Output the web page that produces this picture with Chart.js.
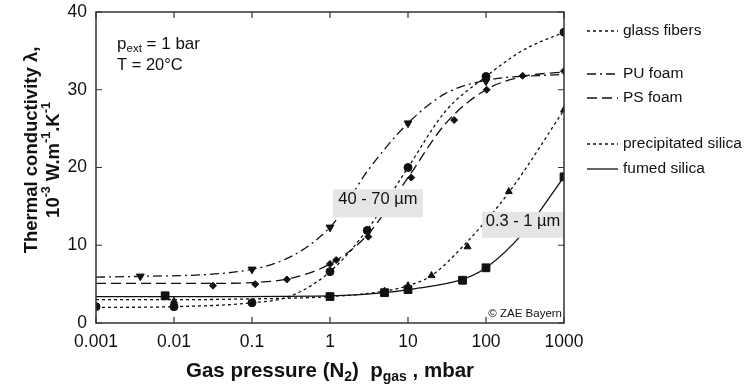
<!DOCTYPE html>
<html>
<head>
<meta charset="utf-8">
<script src="https://cdn.jsdelivr.net/npm/chart.js@4.4.0/dist/chart.umd.min.js"></script>
<style>
  html, body { margin: 0; padding: 0; background: #fff; }
  #wrap { width: 749px; height: 387px; }
</style>
</head>
<body>
<div id="wrap"><canvas id="c" width="749" height="387"></canvas></div>
<script>
// gas pressure in mbar, conductivity in 10^-3 W/(m.K)
const decades = [0.001, 0.01, 0.1, 1, 10, 100, 1000];
const yTicks = [0, 10, 20, 30, 40];

// fitted curves
const glassCurveP = [0.001, 0.01, 0.1, 0.3, 1, 3, 10, 30, 100, 300, 1000];
const glassCurveL = [2.0, 2.1, 2.6, 3.4, 6.6, 12.0, 20.0, 27.2, 31.7, 35.1, 37.4];
const puCurveP = [0.001, 0.0037, 0.1, 1, 3, 10, 30, 100, 1000];
const puCurveL = [5.9, 6.0, 6.9, 12.3, 19.5, 25.7, 29.5, 31.2, 32.0];
const psCurveP = [0.001, 0.03, 0.1, 0.3, 1, 3, 10, 30, 100, 300, 1000];
const psCurveL = [5.1, 5.1, 5.2, 5.7, 7.6, 11.3, 18.7, 25.6, 30.0, 31.7, 32.3];
const precCurveP = [0.001, 0.01, 0.1, 1, 5, 10, 20, 50, 200, 1000];
const precCurveL = [3.0, 3.0, 3.1, 3.4, 4.1, 4.8, 6.1, 9.8, 16.9, 27.4];
const fumedCurveP = [0.001, 0.01, 1, 5, 10, 50, 100, 300, 1000];
const fumedCurveL = [3.4, 3.4, 3.5, 3.9, 4.3, 5.6, 7.1, 11.6, 18.8];

// measured points
const glassP = [0.001, 0.01, 0.1, 1, 3, 10, 100, 1000];
const glassL = [2.1, 2.1, 2.6, 6.6, 11.9, 20.0, 31.7, 37.4];
const puP = [0.0037, 0.1, 1, 10, 100];
const puL = [6.0, 6.9, 12.3, 25.7, 31.1];
const psP = [0.0316, 0.11, 0.28, 1, 1.2, 3.1, 11, 39, 102, 295, 1000];
const psL = [4.8, 5.0, 5.6, 7.6, 8.1, 11.1, 18.7, 26.1, 30.0, 31.8, 32.4];
const precP = [0.01, 5, 10, 20, 58, 196, 1000];
const precL = [2.8, 4.1, 4.8, 6.1, 9.8, 16.9, 27.4];
const fumedP = [0.0077, 1, 5, 10, 50, 100, 1000];
const fumedL = [3.5, 3.4, 3.9, 4.3, 5.5, 7.1, 18.8];

const legendNames = ['glass fibers', 'PU foam', 'PS foam', 'precipitated silica', 'fumed silica'];

const INK = '#111';
const FONT = '"Liberation Sans", Arial, Helvetica, sans-serif';

function pts(px, py) {
  return px.map((p, i) => ({ x: p, y: py[i] }));
}

function curve(label, px, py, dash) {
  return {
    type: 'line', label: label, data: pts(px, py),
    borderColor: INK, borderWidth: 1.3, borderDash: dash,
    pointRadius: 0, fill: false, cubicInterpolationMode: 'monotone'
  };
}

function marks(px, py, style, r, rot) {
  return {
    type: 'line', data: pts(px, py), showLine: false,
    pointStyle: style, pointRadius: r, pointRotation: rot || 0,
    pointBackgroundColor: INK, pointBorderColor: INK, pointBorderWidth: 1
  };
}

const curves = [
  curve('glass fibers', glassCurveP, glassCurveL, [3, 3]),
  curve('PU foam', puCurveP, puCurveL, [9, 4, 2, 4]),
  curve('PS foam', psCurveP, psCurveL, [10, 5]),
  curve('precipitated silica', precCurveP, precCurveL, [3, 3]),
  curve('fumed silica', fumedCurveP, fumedCurveL, [])
];

const markers = [
  marks(glassP, glassL, 'circle', 4),
  marks(puP, puL, 'triangle', 4.5, 180),
  marks(psP, psL, 'rectRot', 3.5),
  marks(precP, precL, 'triangle', 4),
  marks(fumedP, fumedL, 'rect', 5.5)
];

// rich text helper: parts = [[text, 'sub'|'sup'|undefined], ...]
function richWidth(ctx, parts, size, bold) {
  let w = 0;
  parts.forEach(([t, k]) => {
    const s = k ? size * 0.68 : size;
    ctx.font = (bold ? 'bold ' : '') + s + 'px ' + FONT;
    w += ctx.measureText(t).width;
  });
  return w;
}
function drawRich(ctx, parts, x, y, size, bold) {
  let cx = x - richWidth(ctx, parts, size, bold) / 2;
  parts.forEach(([t, k]) => {
    const s = k ? size * 0.68 : size;
    ctx.font = (bold ? 'bold ' : '') + s + 'px ' + FONT;
    const dy = k === 'sub' ? size * 0.3 : k === 'sup' ? -size * 0.38 : 0;
    ctx.fillText(t, cx, y + dy);
    cx += ctx.measureText(t).width;
  });
}
function drawRichLeft(ctx, parts, x, y, size) {
  const w = richWidth(ctx, parts, size, false);
  drawRich(ctx, parts, x + w / 2, y, size, false);
}

function labelBox(ctx, text, x, y, w, h) {
  ctx.fillStyle = '#e5e5e5';
  ctx.fillRect(x, y, w, h);
  ctx.fillStyle = INK;
  ctx.font = '16.5px ' + FONT;
  ctx.textAlign = 'center';
  ctx.fillText(text, x + w / 2, y + h / 2 + 1);
  ctx.textAlign = 'left';
}

const decor = {
  id: 'decor',
  afterDraw(chart) {
    const { ctx, chartArea: a, scales } = chart;
    const xs = scales.x, ys = scales.y;
    ctx.save();

    // size labels (under the frame so the right one meets the axis)
    labelBox(ctx, '40 - 70 \u00B5m', xs.getPixelForValue(1.09), ys.getPixelForValue(17.2), 90, 28);
    labelBox(ctx, '0.3 - 1 \u00B5m', xs.getPixelForValue(89), ys.getPixelForValue(14.3), a.right - xs.getPixelForValue(89), 26);

    // copyright
    ctx.fillStyle = '#fff';
    ctx.fillRect(a.right - 84, a.bottom - 17, 83, 15);
    ctx.fillStyle = INK;
    ctx.font = '11.5px ' + FONT;
    ctx.textAlign = 'right';
    ctx.textBaseline = 'middle';
    ctx.fillText('\u00A9 ZAE Bayern', a.right - 2, a.bottom - 9);

    // frame with inward ticks
    ctx.strokeStyle = '#333';
    ctx.lineWidth = 1.5;
    ctx.strokeRect(a.left, a.top, a.right - a.left, a.bottom - a.top);
    ctx.lineWidth = 1.2;
    ctx.beginPath();
    decades.forEach(v => {
      const px = xs.getPixelForValue(v);
      ctx.moveTo(px, a.bottom); ctx.lineTo(px, a.bottom - 6);
      ctx.moveTo(px, a.top); ctx.lineTo(px, a.top + 6);
    });
    yTicks.forEach(v => {
      const py = ys.getPixelForValue(v);
      ctx.moveTo(a.left, py); ctx.lineTo(a.left + 6, py);
      ctx.moveTo(a.right, py); ctx.lineTo(a.right - 6, py);
    });
    ctx.stroke();

    ctx.fillStyle = INK;
    ctx.textAlign = 'left';

    // conditions
    drawRichLeft(ctx, [['p'], ['ext', 'sub'], [' = 1 bar']], a.left + 21, 44, 17);
    ctx.font = '16.5px ' + FONT;
    ctx.fillText('T = 20\u00B0C', a.left + 21, 65);

    // legend
    const legY = [31, 74, 98, 144, 169];
    ctx.font = '15.5px ' + FONT;
    curves.forEach((ds, i) => {
      ctx.strokeStyle = INK;
      ctx.lineWidth = 1.3;
      ctx.setLineDash(ds.borderDash);
      ctx.beginPath();
      ctx.moveTo(587, legY[i]);
      ctx.lineTo(618, legY[i]);
      ctx.stroke();
      ctx.setLineDash([]);
      ctx.fillText(legendNames[i], 623, legY[i]);
    });

    // axis titles
    drawRich(ctx, [['Gas pressure (N'], ['2', 'sub'], [')  p'], ['gas', 'sub'], [' , mbar']],
      (a.left + a.right) / 2, 371, 20.5, true);

    ctx.translate(32, 0);
    ctx.rotate(-Math.PI / 2);
    drawRich(ctx, [['Thermal conductivity \u03BB,']], -150, 0, 18.5, true);
    drawRich(ctx, [['10'], ['-3', 'sup'], [' W.m'], ['-1', 'sup'], ['.K'], ['-1', 'sup']], -160, 22, 18.5, true);
    ctx.restore();
  }
};

new Chart(document.getElementById('c'), {
  type: 'line',
  data: { datasets: curves.concat(markers) },
  options: {
    responsive: false,
    animation: false,
    events: [],
    layout: { padding: { top: 12, right: 185, left: 0, bottom: 0 } },
    plugins: { legend: { display: false }, tooltip: { enabled: false } },
    scales: {
      x: {
        type: 'logarithmic', min: 0.001, max: 1000,
        grid: { display: false, drawTicks: false }, border: { display: false },
        afterBuildTicks: s => { s.ticks = decades.map(v => ({ value: v })); },
        afterFit: s => { s.height = 64; s.paddingLeft = 0; s.paddingRight = 0; },
        ticks: {
          autoSkip: false, maxRotation: 0, padding: 9,
          color: INK, font: { family: FONT, size: 17.5 },
          callback: v => String(v)
        }
      },
      y: {
        min: 0, max: 40,
        grid: { display: false, drawTicks: false }, border: { display: false },
        afterBuildTicks: s => { s.ticks = yTicks.map(v => ({ value: v })); },
        afterFit: s => { s.width = 96; s.paddingTop = 0; s.paddingBottom = 0; },
        ticks: { padding: 9, color: INK, font: { family: FONT, size: 17.5 } }
      }
    }
  },
  plugins: [decor]
});
</script>
</body>
</html>
